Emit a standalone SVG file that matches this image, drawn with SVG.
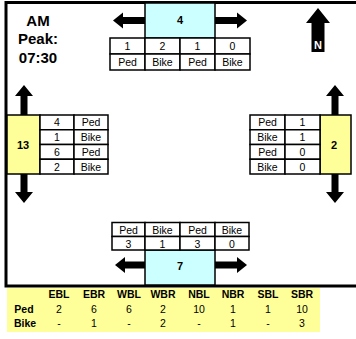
<svg xmlns="http://www.w3.org/2000/svg" width="356" height="339" viewBox="0 0 356 339">
<style>
text{font-family:"Liberation Sans",Arial,sans-serif;text-anchor:middle;dominant-baseline:central;fill:#000}
.c{font-size:10.5px}
.b{font-weight:bold;font-size:11px}
.t{font-weight:bold;font-size:15px}
.h{font-weight:bold;font-size:10.5px}
.v{font-size:10.5px}
.cell{fill:#fff;stroke:#000;stroke-width:1.5}
.cy{fill:#CCFFFF;stroke:#000;stroke-width:1.5}
.ye{fill:#FFFF99;stroke:#000;stroke-width:1.5}
.arr{fill:#000}
</style>
<rect x="0" y="0" width="356" height="339" fill="#fff"/>
<rect x="6" y="2.5" width="370" height="283.5" fill="none" stroke="#000" stroke-width="3"/>

<g id="title">
<text class="t" x="38" y="20">AM</text>
<text class="t" x="38" y="38">Peak:</text>
<text class="t" x="38" y="57">07:30</text>
</g>

<g id="north-arrow">
<polygon class="arr" points="318,8 330,23 324.5,23 324.5,52 311.5,52 311.5,23 306,23"/>
<text x="318" y="45" style="font-weight:bold;font-size:11px;fill:#fff">N</text>
</g>

<g id="node-north">
<rect class="cy" x="145" y="3" width="70" height="35"/>
<text class="b" x="180" y="20">4</text>
<rect class="cell" x="110" y="38" width="35" height="16"/>
<rect class="cell" x="145" y="38" width="35" height="16"/>
<rect class="cell" x="180" y="38" width="35" height="16"/>
<rect class="cell" x="215" y="38" width="35" height="16"/>
<rect class="cell" x="110" y="54" width="35" height="16"/>
<rect class="cell" x="145" y="54" width="35" height="16"/>
<rect class="cell" x="180" y="54" width="35" height="16"/>
<rect class="cell" x="215" y="54" width="35" height="16"/>
<text class="c" x="127.5" y="46">1</text>
<text class="c" x="162.5" y="46">2</text>
<text class="c" x="197.5" y="46">1</text>
<text class="c" x="232.5" y="46">0</text>
<text class="c" x="127.5" y="62">Ped</text>
<text class="c" x="162.5" y="62">Bike</text>
<text class="c" x="197.5" y="62">Ped</text>
<text class="c" x="232.5" y="62">Bike</text>
</g>

<g id="node-west">
<rect class="ye" x="7" y="115" width="33" height="59"/>
<text class="b" x="23" y="145">13</text>
<rect class="cell" x="40" y="115" width="34" height="14.75"/>
<rect class="cell" x="74" y="115" width="34" height="14.75"/>
<rect class="cell" x="40" y="129.75" width="34" height="14.75"/>
<rect class="cell" x="74" y="129.75" width="34" height="14.75"/>
<rect class="cell" x="40" y="144.5" width="34" height="14.75"/>
<rect class="cell" x="74" y="144.5" width="34" height="14.75"/>
<rect class="cell" x="40" y="159.25" width="34" height="14.75"/>
<rect class="cell" x="74" y="159.25" width="34" height="14.75"/>
<text class="c" x="57" y="122.4">4</text>
<text class="c" x="57" y="137.1">1</text>
<text class="c" x="57" y="151.9">6</text>
<text class="c" x="57" y="166.6">2</text>
<text class="c" x="91" y="122.4">Ped</text>
<text class="c" x="91" y="137.1">Bike</text>
<text class="c" x="91" y="151.9">Ped</text>
<text class="c" x="91" y="166.6">Bike</text>
</g>

<g id="node-east">
<rect class="ye" x="320" y="115" width="31" height="59"/>
<text class="b" x="334" y="145">2</text>
<rect class="cell" x="250" y="115" width="35" height="14.75"/>
<rect class="cell" x="285" y="115" width="35" height="14.75"/>
<rect class="cell" x="250" y="129.75" width="35" height="14.75"/>
<rect class="cell" x="285" y="129.75" width="35" height="14.75"/>
<rect class="cell" x="250" y="144.5" width="35" height="14.75"/>
<rect class="cell" x="285" y="144.5" width="35" height="14.75"/>
<rect class="cell" x="250" y="159.25" width="35" height="14.75"/>
<rect class="cell" x="285" y="159.25" width="35" height="14.75"/>
<text class="c" x="267.5" y="122.4">Ped</text>
<text class="c" x="267.5" y="137.1">Bike</text>
<text class="c" x="267.5" y="151.9">Ped</text>
<text class="c" x="267.5" y="166.6">Bike</text>
<text class="c" x="302.5" y="122.4">1</text>
<text class="c" x="302.5" y="137.1">1</text>
<text class="c" x="302.5" y="151.9">0</text>
<text class="c" x="302.5" y="166.6">0</text>
</g>

<g id="node-south">
<rect class="cy" x="145" y="250" width="70" height="35"/>
<text class="b" x="180" y="266">7</text>
<rect class="cell" x="112" y="222.5" width="33" height="14"/>
<rect class="cell" x="145" y="222.5" width="35" height="14"/>
<rect class="cell" x="180" y="222.5" width="35" height="14"/>
<rect class="cell" x="215" y="222.5" width="34" height="14"/>
<rect class="cell" x="112" y="236.5" width="33" height="13.5"/>
<rect class="cell" x="145" y="236.5" width="35" height="13.5"/>
<rect class="cell" x="180" y="236.5" width="35" height="13.5"/>
<rect class="cell" x="215" y="236.5" width="34" height="13.5"/>
<text class="c" x="128.5" y="230">Ped</text>
<text class="c" x="162.5" y="230">Bike</text>
<text class="c" x="197.5" y="230">Ped</text>
<text class="c" x="232" y="230">Bike</text>
<text class="c" x="128.5" y="243.5">3</text>
<text class="c" x="162.5" y="243.5">1</text>
<text class="c" x="197.5" y="243.5">3</text>
<text class="c" x="232" y="243.5">0</text>
</g>

<g id="connectors">
<polygon class="arr" points="113,20.5 123,12.5 123,17 145,17 145,24 123,24 123,28.5"/>
<polygon class="arr" points="247,20.5 237,12.5 237,17 215,17 215,24 237,24 237,28.5"/>
<polygon class="arr" points="115,265 125,257 125,261.5 145,261.5 145,268.5 125,268.5 125,273"/>
<polygon class="arr" points="247,265 237,257 237,261.5 215,261.5 215,268.5 237,268.5 237,273"/>
<polygon class="arr" points="24,85 33,96 27.5,96 27.5,115 20.5,115 20.5,96 15,96"/>
<polygon class="arr" points="24,203 33,192 27.5,192 27.5,174 20.5,174 20.5,192 15,192"/>
<polygon class="arr" points="335,85 344,96 338.5,96 338.5,115 331.5,115 331.5,96 326,96"/>
<polygon class="arr" points="335,203 344,192 338.5,192 338.5,174 331.5,174 331.5,192 326,192"/>
</g>

<g id="summary-table">
<rect x="7" y="288" width="313" height="44" fill="#FFFF99"/>
<text class="h" x="59" y="294.3">EBL</text>
<text class="h" x="94" y="294.3">EBR</text>
<text class="h" x="129" y="294.3">WBL</text>
<text class="h" x="163" y="294.3">WBR</text>
<text class="h" x="199" y="294.3">NBL</text>
<text class="h" x="233" y="294.3">NBR</text>
<text class="h" x="268" y="294.3">SBL</text>
<text class="h" x="302" y="294.3">SBR</text>
<text class="h" x="24" y="309.3">Ped</text>
<text class="h" x="25" y="323.3">Bike</text>
<text class="v" x="59" y="309.3">2</text>
<text class="v" x="94" y="309.3">6</text>
<text class="v" x="129" y="309.3">6</text>
<text class="v" x="163" y="309.3">2</text>
<text class="v" x="199" y="309.3">10</text>
<text class="v" x="233" y="309.3">1</text>
<text class="v" x="268" y="309.3">1</text>
<text class="v" x="302" y="309.3">10</text>
<text class="v" x="59" y="323.3">-</text>
<text class="v" x="94" y="323.3">1</text>
<text class="v" x="129" y="323.3">-</text>
<text class="v" x="163" y="323.3">2</text>
<text class="v" x="199" y="323.3">-</text>
<text class="v" x="233" y="323.3">1</text>
<text class="v" x="268" y="323.3">-</text>
<text class="v" x="302" y="323.3">3</text>
</g>
</svg>
